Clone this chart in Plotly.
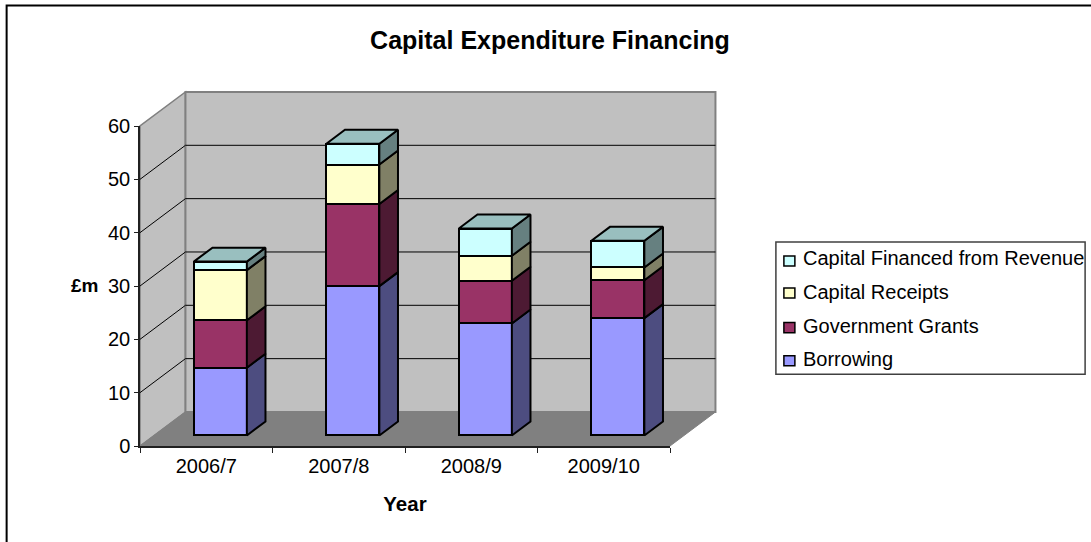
import plotly.graph_objects as go

W, H = 1091, 542
years = ["2006/7", "2007/8", "2008/9", "2009/10"]
series_names = ["Borrowing", "Government Grants", "Capital Receipts", "Capital Financed from Revenue"]
borrowing = [12.7, 28.0, 21.0, 22.0]
grants = [8.9, 15.4, 8.0, 7.1]
receipts = [9.4, 7.4, 4.7, 2.4]
revenue = [1.6, 3.9, 5.1, 5.0]
series_values = [borrowing, grants, receipts, revenue]
front_colors = ["#9999FF", "#993366", "#FFFFCC", "#CCFFFF"]
side_colors = ["#4D4D80", "#4D1A33", "#808066", "#668080"]
top_colors = ["#7373BF", "#732645", "#BFBF99", "#99BFBF"]
y_ticks = [0, 10, 20, 30, 40, 50, 60]

# plot area (front plane) in pixels
L, R, T, B = 139.5, 670.0, 126.0, 445.8
DEPTH_X, DEPTH_Y = 45.5, 34.0          # wall depth, pixels
BAR_F = 0.31                            # front face of bars within the depth
BAR_D = 0.41                            # bar depth as share of the wall depth
BAR_W = 0.40                            # bar width in category units

ux = (R - L) / 4      # px per category
uy = (B - T) / 60     # px per value unit
wall_dx, wall_dy = DEPTH_X / ux, DEPTH_Y / uy   # depth in data units

def X(v): return v / 4                 # data -> paper (plot area)
def Y(v): return v / 60
def PX(p): return (p - L) / (R - L)    # page pixels -> paper
def PY(p): return (B - p) / (B - T)

def poly(pts):
    return "M" + "L".join(f"{X(a)},{Y(b)}" for a, b in pts) + "Z"

shapes = []
def add_poly(pts, fill, color, width):
    shapes.append(dict(type="path", xref="paper", yref="paper", layer="below", path=poly(pts),
                       fillcolor=fill, line=dict(color=color, width=width)))

# outer frame: only the left and top edges fall inside the picture
shapes.append(dict(type="path", xref="paper", yref="paper", layer="below",
                   path=f"M{PX(6)},{PY(545)}L{PX(6)},{PY(5.5)}L{PX(1095)},{PY(5.5)}",
                   line=dict(color="black", width=2)))
# side wall, back wall, floor
add_poly([(0, 0), (wall_dx, wall_dy), (wall_dx, 60 + wall_dy), (0, 60)], "#C0C0C0", "#808080", 1.5)
add_poly([(wall_dx, wall_dy), (4 + wall_dx, wall_dy), (4 + wall_dx, 60 + wall_dy), (wall_dx, 60 + wall_dy)],
         "#C0C0C0", "#808080", 2)
add_poly([(0, 0), (4, 0), (4 + wall_dx, wall_dy), (wall_dx, wall_dy)], "#808080", "#808080", 1)
# gridlines
for v in y_ticks[1:-1]:
    shapes.append(dict(type="path", xref="paper", yref="paper", layer="below",
                       path=f"M{X(0)},{Y(v)}L{X(wall_dx)},{Y(v + wall_dy)}L{X(4 + wall_dx)},{Y(v + wall_dy)}",
                       line=dict(color="black", width=1)))

fig = go.Figure()
shift_x = BAR_F * wall_dx
shift_y = BAR_F * wall_dy
dep_x = BAR_D * wall_dx
dep_y = BAR_D * wall_dy
centers = [i + 0.5 + shift_x for i in range(len(years))]
EDGE = 2

# front faces: stacked bars with an explicit base
cumulative = [shift_y] * len(years)
bases = []
for vals in series_values:
    bases.append(list(cumulative))
    cumulative = [c + v for c, v in zip(cumulative, vals)]

for name, vals, col, bs in zip(series_names, series_values, front_colors, bases):
    fig.add_trace(go.Bar(x=centers, y=vals, base=bs, width=BAR_W, name=name, showlegend=False,
                         marker=dict(color=col, line=dict(color="black", width=EDGE))))

# side and top faces
for i, (vals, sc, tc, bs) in enumerate(zip(series_values, side_colors, top_colors, bases)):
    for j, v in enumerate(vals):
        lo = bs[j]
        hi = lo + v
        xr = centers[j] + BAR_W / 2
        fig.add_trace(go.Scatter(x=[xr, xr + dep_x, xr + dep_x, xr, xr],
                                 y=[lo, lo + dep_y, hi + dep_y, hi, lo],
                                 mode="lines", fill="toself", fillcolor=sc, showlegend=False, hoverinfo="skip",
                                 line=dict(color="black", width=EDGE)))
        if i == len(series_values) - 1:
            xl = centers[j] - BAR_W / 2
            fig.add_trace(go.Scatter(x=[xl, xr, xr + dep_x, xl + dep_x, xl],
                                     y=[hi, hi, hi + dep_y, hi + dep_y, hi],
                                     mode="lines", fill="toself", fillcolor=tc, showlegend=False, hoverinfo="skip",
                                     line=dict(color="black", width=EDGE)))

# legend
FONT = "Liberation Sans, Arial, sans-serif"
annotations = []
shapes.append(dict(type="rect", xref="paper", yref="paper", x0=PX(776), x1=PX(1085.5), y0=PY(242), y1=PY(374),
                   fillcolor="white", line=dict(color="#404040", width=1.5)))
legend_text_rows = [358.5, 326, 292, 258]
legend_swatch_rows = [360.5, 327.5, 293, 261]
for name, col, ry, sy in zip(series_names, front_colors, legend_text_rows, legend_swatch_rows):
    shapes.append(dict(type="rect", xref="paper", yref="paper", x0=PX(784), x1=PX(795), y0=PY(sy - 5), y1=PY(sy + 5),
                       fillcolor=col, line=dict(color="black", width=1.5)))
    annotations.append(dict(xref="paper", yref="paper", x=PX(801.5), y=PY(ry), xanchor="left", yanchor="middle",
                            text=name, showarrow=False, font=dict(family=FONT, size=20, color="black")))
# horizontal value-axis title
annotations.append(dict(xref="paper", yref="paper", x=PX(83.5), y=PY(285), xanchor="center", yanchor="middle",
                        text="<b>£m</b>", showarrow=False, font=dict(family=FONT, size=19, color="black")))

fig.update_layout(
    width=W, height=H, autosize=False,
    margin=dict(l=L, r=W - R, t=T, b=H - B, pad=0),
    paper_bgcolor="white", plot_bgcolor="rgba(0,0,0,0)",
    barmode="overlay", bargap=0,
    showlegend=False,
    font=dict(family=FONT, size=16, color="black"),
    title=dict(text="<b>Capital Expenditure Financing</b>", x=550 / W, xanchor="center", xref="container",
               y=1 - 40 / H, yanchor="middle", yref="container", font=dict(size=25, family=FONT, color="black")),
    shapes=shapes, annotations=annotations,
    xaxis=dict(range=[0, 4], tickmode="array", tickvals=[i + 0.5 for i in range(4)], ticktext=years,
               ticks="", showgrid=False, zeroline=False, showline=True, linecolor="#202020", linewidth=1.5,
               minor=dict(tickmode="array", tickvals=[0, 1, 2, 3, 4], ticks="outside", ticklen=5, tickcolor="#202020",
                          tickwidth=1, showgrid=False),
               title=dict(text="<b>Year</b>", font=dict(size=20.5, family=FONT), standoff=21),
               tickfont=dict(size=20), ticklabelstandoff=1, fixedrange=True),
    yaxis=dict(range=[0, 60], tickmode="array", tickvals=y_ticks, ticks="outside", ticklen=4, tickcolor="#202020",
               showgrid=False, zeroline=False, showline=True, linecolor="#202020", linewidth=1.5,
               tickfont=dict(size=20), fixedrange=True),
)

fig.write_html("out.html", config={"displayModeBar": False},
               post_script="document.body.style.margin='0';document.documentElement.style.overflow='hidden';")
